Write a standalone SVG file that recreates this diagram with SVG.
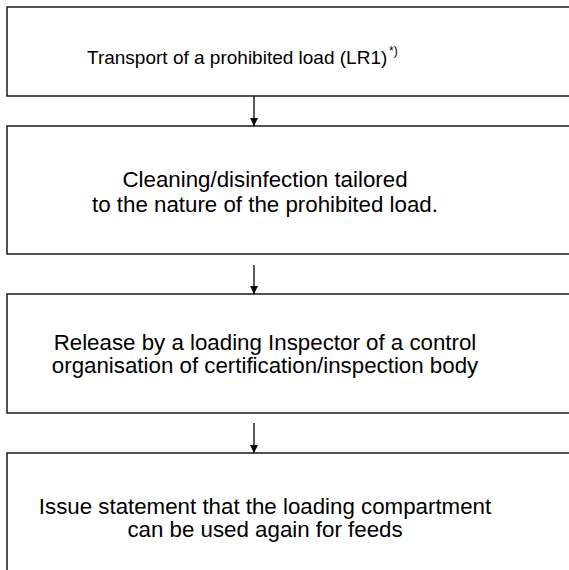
<svg xmlns="http://www.w3.org/2000/svg" width="569" height="570" viewBox="0 0 569 570">
<style>
.box{fill:#fff;stroke:#1a1a1a;stroke-width:1.5}
.t{font-family:"Liberation Sans",Arial,sans-serif;font-size:22.3px;fill:#000;text-anchor:middle}
.t1{font-family:"Liberation Sans",Arial,sans-serif;font-size:19px;fill:#000}
.sup{font-family:"Liberation Sans",Arial,sans-serif;font-size:12px;fill:#000}
.c{stroke:#000;stroke-width:1.3;fill:none}
</style>
<defs>
<marker id="ah" viewBox="0 0 10 10" refX="10" refY="5" markerWidth="10" markerHeight="8" markerUnits="userSpaceOnUse" orient="auto">
<path d="M0,0 L10,5 L0,10 z" fill="#000"/>
</marker>
</defs>
<rect width="569" height="570" fill="#fff"/>
<g id="n1"><rect class="box" x="7" y="7" width="570" height="89"/>
<text class="t1" x="87" y="64">Transport of a prohibited load (LR1)</text>
<text class="sup" x="389" y="55">*)</text></g>
<g id="n2"><rect class="box" x="7" y="126" width="570" height="128"/>
<text class="t" x="265" y="187">Cleaning/disinfection tailored</text>
<text class="t" x="265" y="212">to the nature of the prohibited load.</text></g>
<g id="n3"><rect class="box" x="7" y="294" width="570" height="119"/>
<text class="t" x="265" y="350">Release by a loading Inspector of a control</text>
<text class="t" x="265" y="373">organisation of certification/inspection body</text></g>
<g id="n4"><rect class="box" x="7" y="453" width="570" height="130"/>
<text class="t" x="265" y="514">Issue statement that the loading compartment</text>
<text class="t" x="265" y="537">can be used again for feeds</text></g>
<g id="connectors">
<line class="c" x1="254" y1="96" x2="254" y2="126" marker-end="url(#ah)"/>
<line class="c" x1="254" y1="265" x2="254" y2="294" marker-end="url(#ah)"/>
<line class="c" x1="254" y1="423" x2="254" y2="453" marker-end="url(#ah)"/>
</g>
</svg>
